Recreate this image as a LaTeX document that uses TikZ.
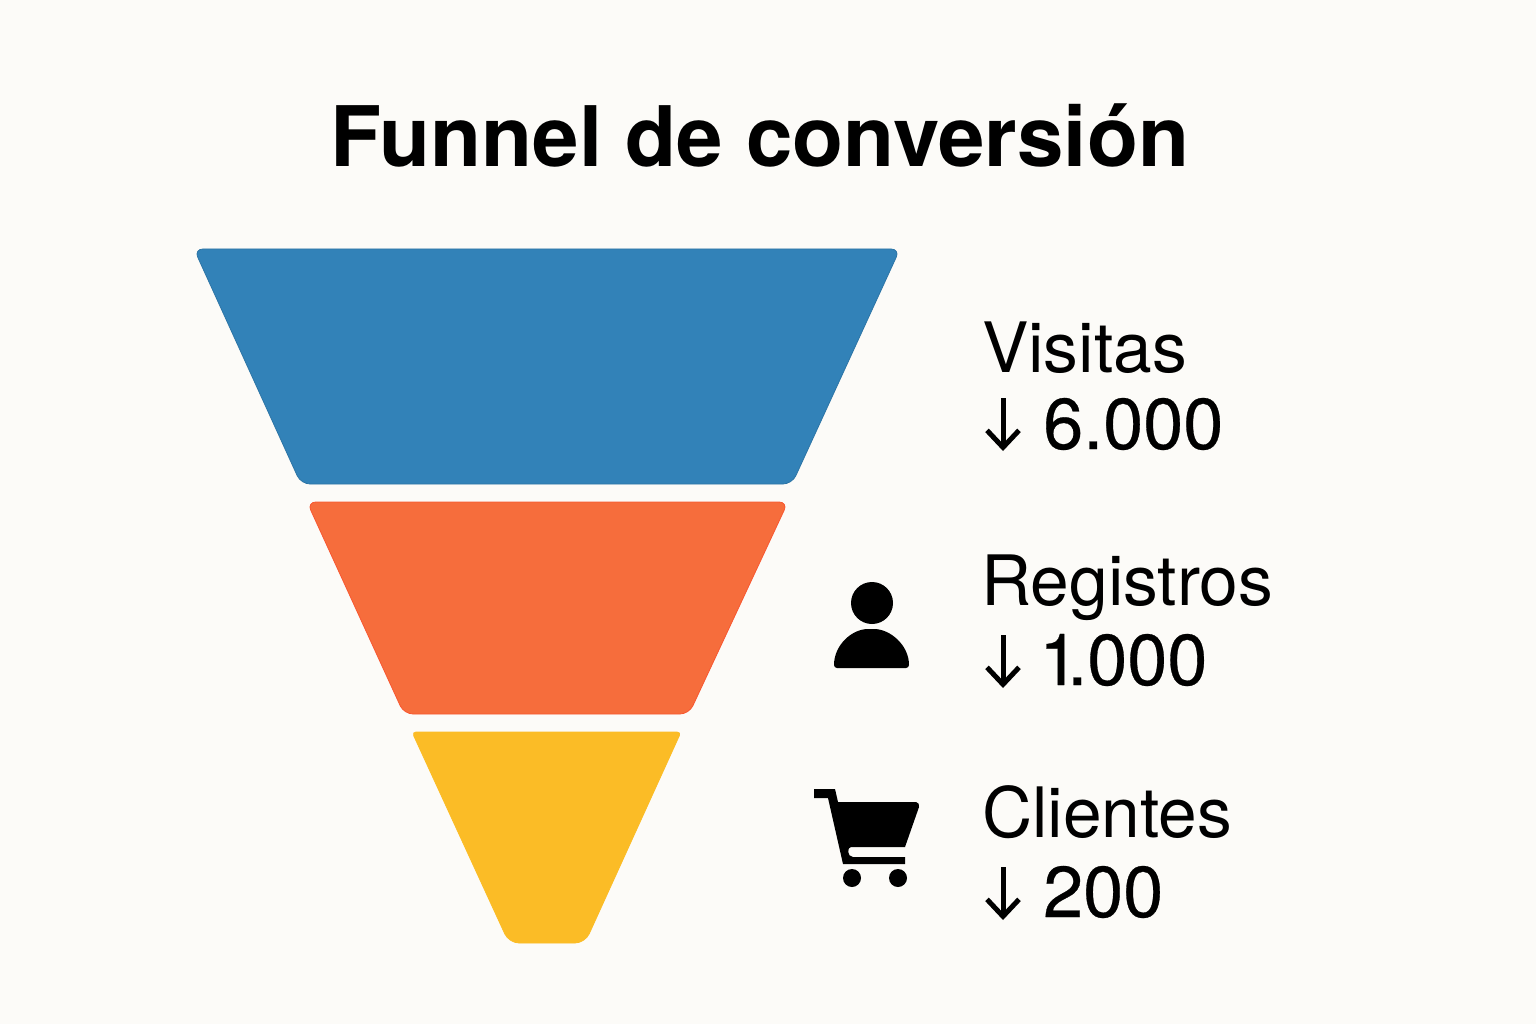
\documentclass[tikz,border=0pt]{standalone}
\usepackage{xcolor}
\usepackage{fontspec}
\setmainfont{TeX Gyre Heros}
\newfontfamily\numfont[FakeBold=0.4]{TeX Gyre Heros}
\usetikzlibrary{arrows.meta, positioning}
\definecolor{paper}{HTML}{FCFBF8}
\definecolor{funnelblue}{HTML}{3282B8}
\definecolor{funnelorange}{HTML}{F66D3C}
\definecolor{funnelyellow}{HTML}{FBBC26}
\tikzstyle{stage} = [rounded corners=9pt, line width=0.8pt]
\tikzstyle{stagetext} = [anchor=base west, inner sep=0pt, font=\fontsize{69.5}{70}\selectfont, text=black]
\tikzstyle{stagenum} = [anchor=base west, inner sep=0pt, font=\fontsize{72}{72}\numfont, text=black]
\tikzstyle{titletext} = [anchor=base, inner sep=0pt, font=\fontsize{83.5}{84}\selectfont\bfseries, text=black]
\tikzstyle{arrow} = [line width=5pt, -{Straight Barb[length=17pt,width=32pt]}]
\begin{document}
\begin{tikzpicture}[x=1pt,y=-1pt]
        % Page
        \fill [paper] (0,0) rectangle (1536,1024);
        \useasboundingbox (0,0) rectangle (1536,1024);

        % Title
        \node (title) [titletext] at (760,167) {Funnel de conversión};

        % Funnel
        \filldraw [stage, fill=funnelblue, draw=funnelblue!90!black] (194,249) -- (900,249) -- (792,484) -- (301,484) -- cycle;
        \filldraw [stage, fill=funnelorange, draw=funnelorange!80!red] (307,502) -- (788,502) -- (689,714) -- (404,714) -- cycle;
        \filldraw [fill=funnelyellow, draw=funnelyellow, line width=0.8pt] (546,732) [rounded corners=4pt] -- (412,732) [rounded corners=10pt] -- (509,943) -- (585,943) [rounded corners=4pt] -- (681,732) -- cycle;

        % Labels
        \node (visitas) [stagetext] at (982,372) {Visitas};
        \node (visitasn) [stagenum] at (1043,449) {6.000};
        \node (registros) [stagetext] at (981,605) {Registros};
        \node (registrosn) [stagenum] at (1039,685) {1\kern-12pt.000};
        \node (clientes) [stagetext] at (982,837) {Clientes};
        \node (clientesn) [stagenum] at (1043,917) {200};

        % Arrows
        \coordinate (a1) at (1003,398);
        \coordinate (a2) at (1003,451);
        \coordinate (b1) at (1003,635);
        \coordinate (b2) at (1003,688);
        \coordinate (c1) at (1003,867);
        \coordinate (c2) at (1003,920);
        \draw [arrow] (a1) -- (a2);
        \draw [arrow] (b1) -- (b2);
        \draw [arrow] (c1) -- (c2);

        % Person
        \fill (872,603) circle (21);
        \fill [rounded corners=3pt] (834,668) .. controls (834,645) and (852,629) .. (871,629) .. controls (890,629) and (909,645) .. (909,668) -- cycle;

        % Cart
        \fill (852,878) circle (9);
        \fill (898,878) circle (9);
        \fill (814,789) -- (835,789) -- (838,802) -- (916,802) .. controls (919,802) and (919,805) .. (919,807) -- (905,847) -- (851,847) .. controls (847,847) and (847,857) .. (853,857) -- (905,857) -- (905,864) -- (843,864) -- (828,798) -- (814,798) -- cycle;
    \end{tikzpicture}
\end{document}
